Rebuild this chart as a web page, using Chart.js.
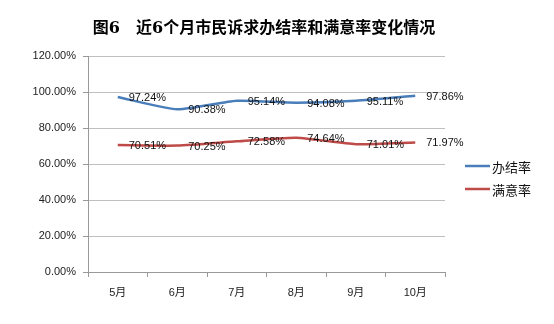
<!DOCTYPE html>
<html>
<head>
<meta charset="utf-8">
<script src="https://cdn.jsdelivr.net/npm/chart.js@4"></script>
<style>
  html, body { margin: 0; padding: 0; background: #fff; }
</style>
</head>
<body>
<canvas id="myChart" width="554" height="324"></canvas>
<script>
const months = ['5月', '6月', '7月', '8月', '9月', '10月'];
const doneRate = [97.24, 90.38, 95.14, 94.08, 95.11, 97.86];   // 办结率
const satisfyRate = [70.51, 70.25, 72.58, 74.64, 71.01, 71.97]; // 满意率
const seriesNames = ['办结率', '满意率'];
const titleText = '图6　近6个月市民诉求办结率和满意率变化情况';

const TEXT_FONT = '"Liberation Sans", "Noto Sans CJK SC", sans-serif';

// title, data labels and legend drawn on top of the chart
const extras = {
    id: 'extras',
    afterDatasetsDraw(chart) {
        const ctx = chart.ctx;
        ctx.save();

        // title
        ctx.fillStyle = '#000';
        ctx.font = 'bold 16px "DejaVu Serif", "Noto Sans CJK SC", serif';
        ctx.textAlign = 'center';
        ctx.textBaseline = 'middle';
        ctx.fillText(titleText, 264, 29);

        // labels to the right of each point
        ctx.font = '11px ' + TEXT_FONT;
        ctx.fillStyle = '#111';
        ctx.textAlign = 'left';
        chart.data.datasets.forEach((ds, i) => {
            const meta = chart.getDatasetMeta(i);
            meta.data.forEach((pt, j) => {
                ctx.fillText(ds.data[j].toFixed(2) + '%', pt.x + 11, pt.y + 1);
            });
        });

        // legend
        ctx.font = '13px "Noto Sans CJK SC", sans-serif';
        const legY = [166, 189];
        chart.data.datasets.forEach((ds, i) => {
            ctx.strokeStyle = ds.borderColor;
            ctx.lineWidth = 2.5;
            ctx.beginPath();
            ctx.moveTo(465, legY[i]);
            ctx.lineTo(490, legY[i]);
            ctx.stroke();
            ctx.fillStyle = '#111';
            ctx.fillText(ds.label, 492, legY[i] + 1);
        });

        ctx.restore();
    }
};

const ctx = document.getElementById('myChart').getContext('2d');
new Chart(ctx, {
    type: 'line',
    data: {
        labels: months,
        datasets: [
            {
                label: seriesNames[0],
                data: doneRate,
                borderColor: '#4a7ebb',
                borderWidth: 2.5,
                pointRadius: 0,
                tension: 0.2
            },
            {
                label: seriesNames[1],
                data: satisfyRate,
                borderColor: '#be4b48',
                borderWidth: 2.5,
                pointRadius: 0,
                tension: 0.2
            }
        ]
    },
    options: {
        responsive: false,
        animation: false,
        devicePixelRatio: 1,
        layout: { padding: { left: 0, top: 56, right: 109, bottom: 0 } },
        plugins: {
            legend: { display: false },
            title: { display: false },
            tooltip: { enabled: false }
        },
        scales: {
            x: {
                offset: true,
                afterFit: s => { s.height = 52; },
                grid: {
                    offset: true,
                    drawOnChartArea: false,
                    drawTicks: true,
                    tickLength: 5,
                    color: '#999'
                },
                border: { color: '#999' },
                ticks: {
                    padding: 9,
                    color: '#222',
                    font: { family: TEXT_FONT, size: 11 }
                }
            },
            y: {
                min: 0,
                max: 120,
                afterFit: s => { s.width = 88; },
                grid: {
                    color: '#bfbfbf',
                    tickLength: 5,
                    tickColor: '#999'
                },
                border: { color: '#999' },
                ticks: {
                    stepSize: 20,
                    padding: 7,
                    color: '#222',
                    font: { family: TEXT_FONT, size: 11 },
                    callback: v => v.toFixed(2) + '%'
                }
            }
        }
    },
    plugins: [extras]
});
</script>
</body>
</html>
